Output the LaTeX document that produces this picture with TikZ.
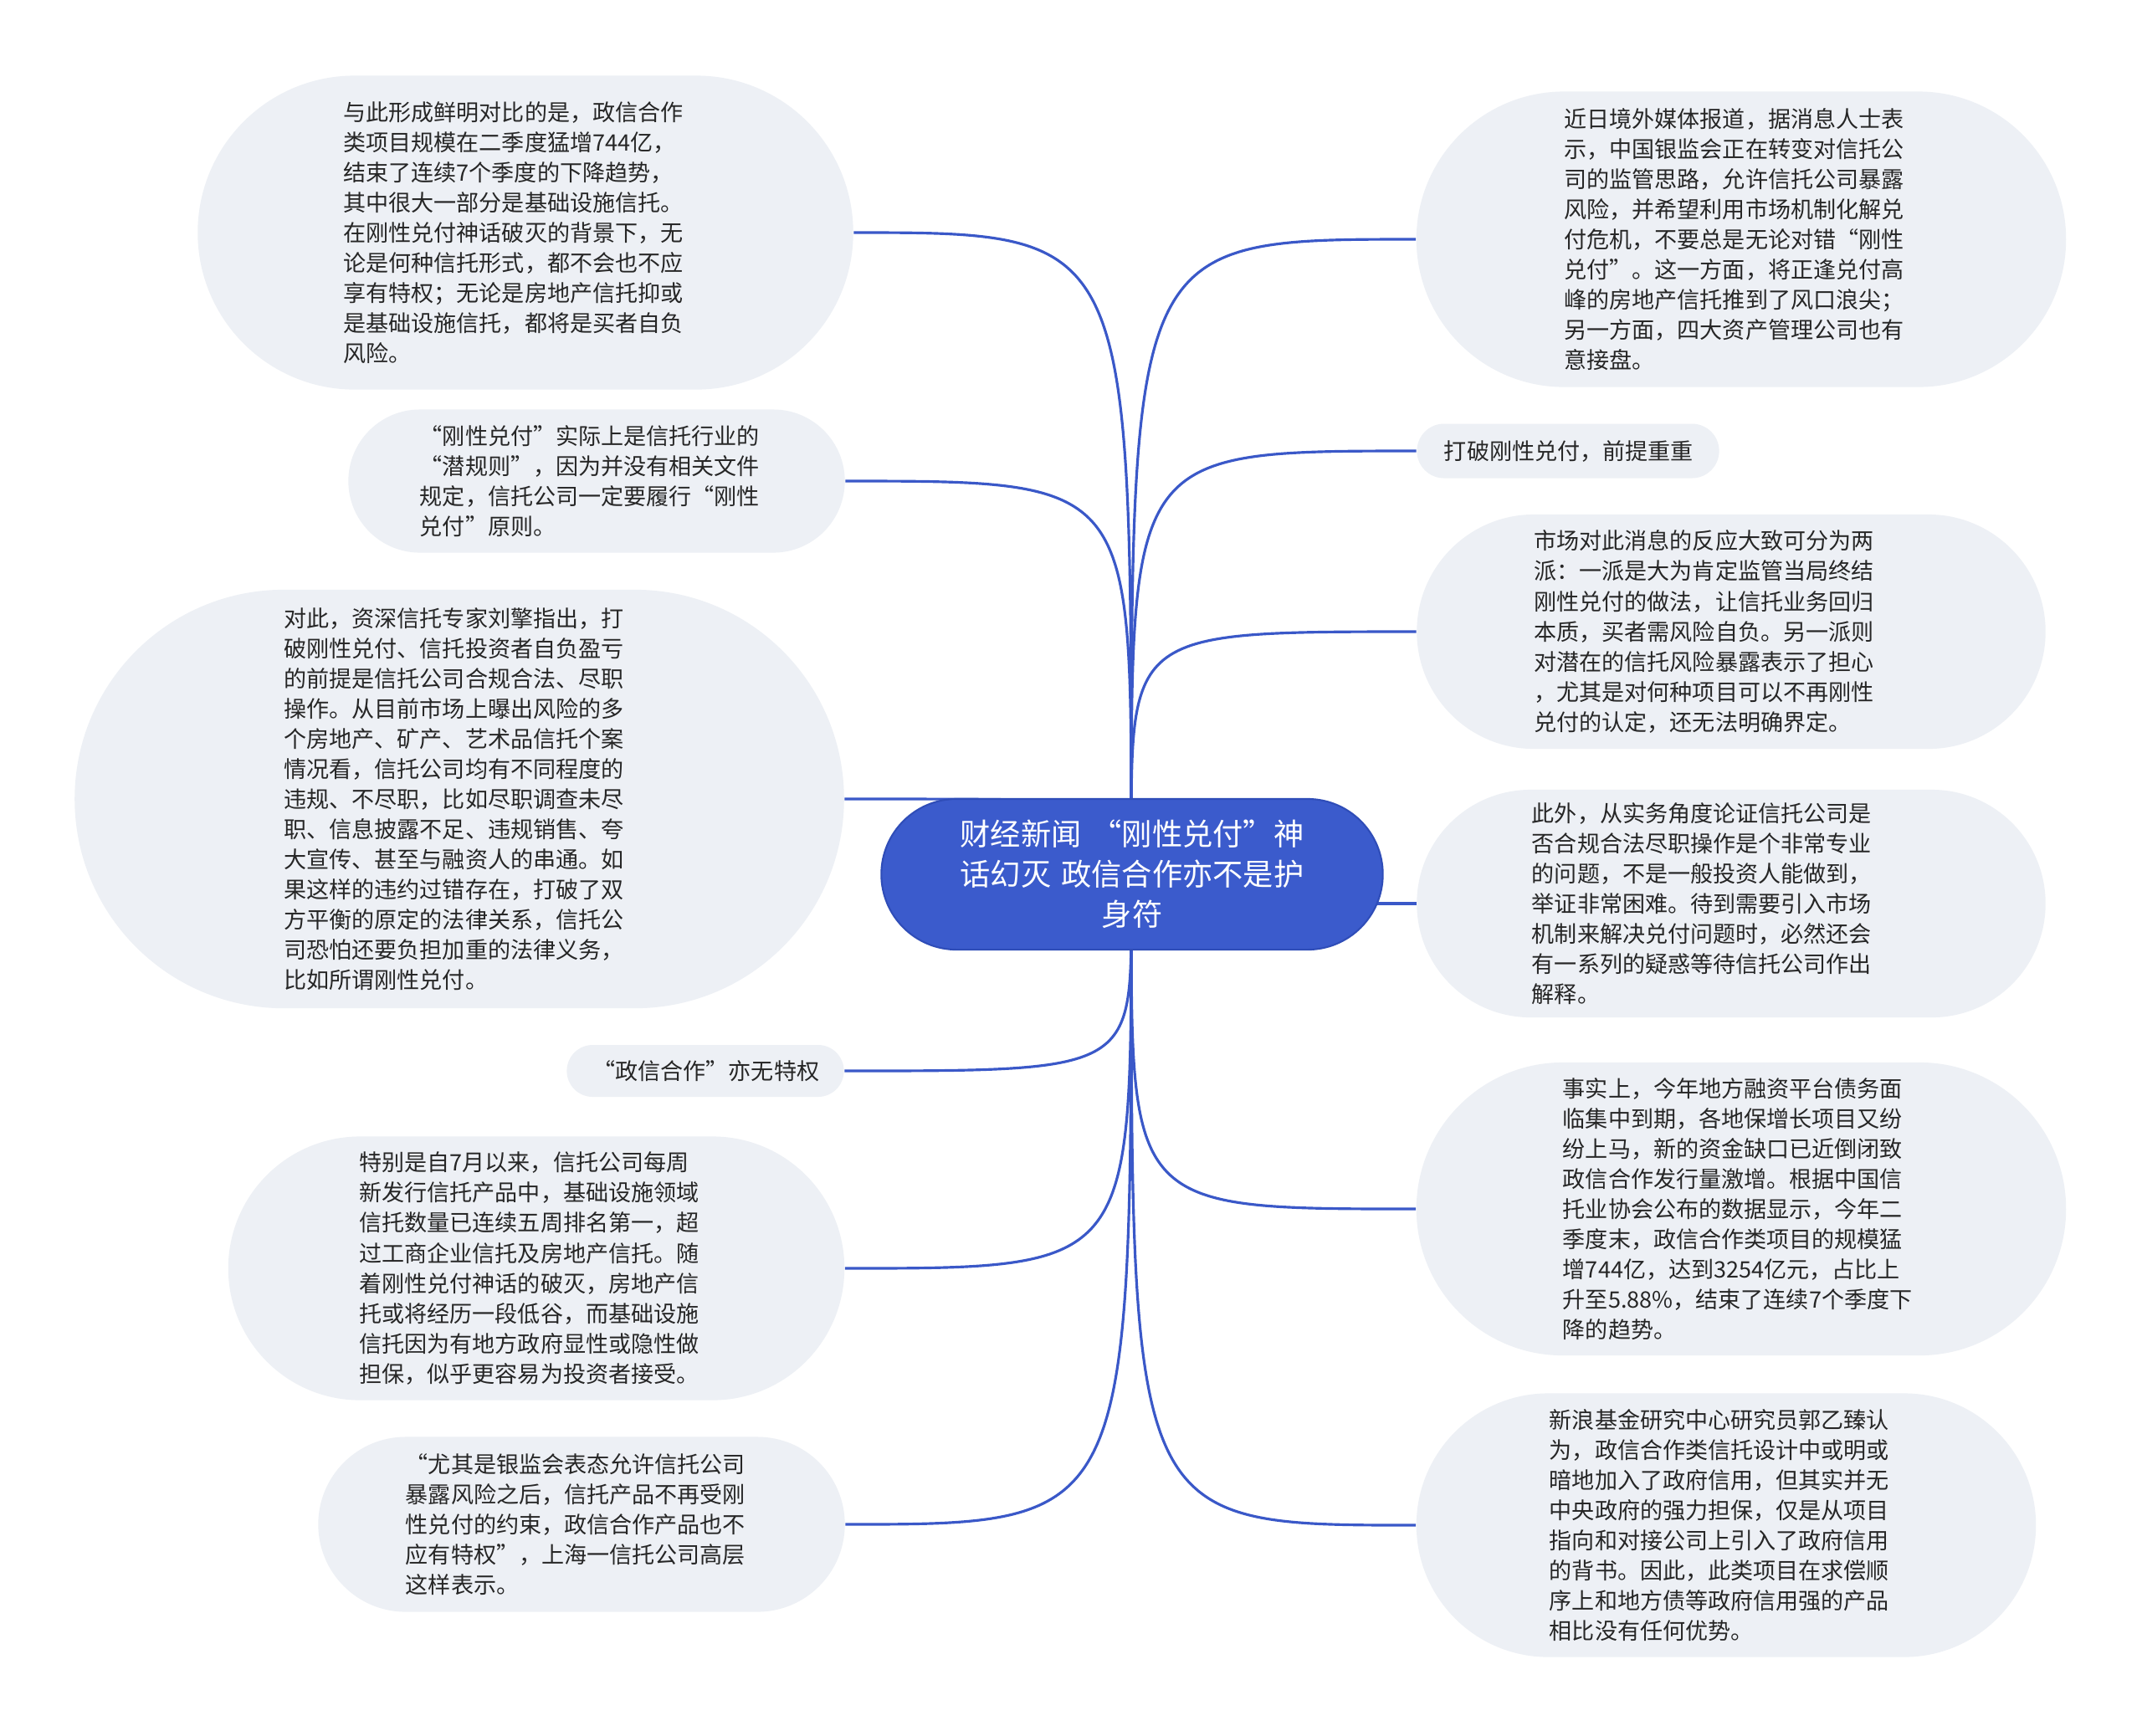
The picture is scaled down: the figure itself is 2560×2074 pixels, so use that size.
\documentclass[tikz,border=0pt]{standalone}
\usepackage{fontspec}
\setmainfont{Noto Sans CJK SC}
\usetikzlibrary{backgrounds}
\definecolor{nodefill}{HTML}{EDF0F5}
\definecolor{mainblue}{HTML}{3B5BCC}
\definecolor{mainedge}{HTML}{2F4DB8}
\definecolor{linkblue}{HTML}{3A58C8}
\definecolor{txt}{HTML}{262626}
\begin{document}
\begin{tikzpicture}[x=0.01cm,y=-0.01cm,
  leaf/.style n args={4}{rectangle, fill=nodefill, inner xsep=0pt, inner ysep=0pt,
    minimum width=#1, minimum height=#2, rounded corners=#3, text width=#4,
    align=left, text=txt, font=\fontsize{7.7pt}{10.25pt}\selectfont},
  root/.style n args={4}{rectangle, fill=mainblue, draw=mainedge, line width=0.6pt,
    inner xsep=0pt, inner ysep=0pt,
    minimum width=#1, minimum height=#2, rounded corners=#3, text width=#4,
    align=center, text=white, font=\fontsize{10.3pt}{13.7pt}\selectfont},
  link/.style={draw=linkblue, line width=0.9pt}]
\useasboundingbox (0,0) rectangle (2560,2074);

\node[root={5.99cm}{1.80cm}{0.90cm}{4.19cm}] (c) at (1353,1045)
  {财经新闻 “刚性兑付”神\\话幻灭 政信合作亦不是护\\身符};

% left side
\node[leaf={7.83cm}{3.75cm}{1.875cm}{4.35cm}] (L1) at (628,278)
  {与此形成鲜明对比的是，政信合作\\类项目规模在二季度猛增744亿，\\结束了连续7个季度的下降趋势，\\其中很大一部分是基础设施信托。\\在刚性兑付神话破灭的背景下，无\\论是何种信托形式，都不会也不应\\享有特权；无论是房地产信托抑或\\是基础设施信托，都将是买者自负\\风险。};
\node[leaf={5.93cm}{1.71cm}{0.855cm}{4.22cm}] (L2) at (713,575)
  {“刚性兑付”实际上是信托行业的\\“潜规则”，因为并没有相关文件\\规定，信托公司一定要履行“刚性\\兑付”原则。};
\node[leaf={9.19cm}{5.00cm}{2.5cm}{4.19cm}] (L3) at (549,955)
  {对此，资深信托专家刘擎指出，打\\破刚性兑付、信托投资者自负盈亏\\的前提是信托公司合规合法、尽职\\操作。从目前市场上曝出风险的多\\个房地产、矿产、艺术品信托个案\\情况看，信托公司均有不同程度的\\违规、不尽职，比如尽职调查未尽\\职、信息披露不足、违规销售、夸\\大宣传、甚至与融资人的串通。如\\果这样的违约过错存在，打破了双\\方平衡的原定的法律关系，信托公\\司恐怕还要负担加重的法律义务，\\比如所谓刚性兑付。};
\node[leaf={3.31cm}{0.62cm}{0.31cm}{2.69cm}] (L4) at (843,1280)
  {“政信合作”亦无特权};
\node[leaf={7.36cm}{3.15cm}{1.575cm}{4.23cm}] (L5) at (641,1516)
  {特别是自7月以来，信托公司每周\\新发行信托产品中，基础设施领域\\信托数量已连续五周排名第一，超\\过工商企业信托及房地产信托。随\\着刚性兑付神话的破灭，房地产信\\托或将经历一段低谷，而基础设施\\信托因为有地方政府显性或隐性做\\担保，似乎更容易为投资者接受。};
\node[leaf={6.29cm}{2.09cm}{1.045cm}{4.20cm}] (L6) at (695,1822)
  {“尤其是银监会表态允许信托公司\\暴露风险之后，信托产品不再受刚\\性兑付的约束，政信合作产品也不\\应有特权”，上海一信托公司高层\\这样表示。};

% right side
\node[leaf={7.76cm}{3.53cm}{1.765cm}{4.23cm}] (R1) at (2081,286)
  {近日境外媒体报道，据消息人士表\\示，中国银监会正在转变对信托公\\司的监管思路，允许信托公司暴露\\风险，并希望利用市场机制化解兑\\付危机，不要总是无论对错“刚性\\兑付”。这一方面，将正逢兑付高\\峰的房地产信托推到了风口浪尖；\\另一方面，四大资产管理公司也有\\意接盘。};
\node[leaf={3.61cm}{0.65cm}{0.325cm}{2.96cm}] (R2) at (1874,539)
  {打破刚性兑付，前提重重};
\node[leaf={7.51cm}{2.80cm}{1.40cm}{4.71cm}] (R3) at (2069,755)
  {市场对此消息的反应大致可分为两\\派：一派是大为肯定监管当局终结\\刚性兑付的做法，让信托业务回归\\本质，买者需风险自负。另一派则\\对潜在的信托风险暴露表示了担心\\，尤其是对何种项目可以不再刚性\\兑付的认定，还无法明确界定。};
\node[leaf={7.51cm}{2.72cm}{1.36cm}{4.76cm}] (R4) at (2069,1080)
  {此外，从实务角度论证信托公司是\\否合规合法尽职操作是个非常专业\\的问题，不是一般投资人能做到，\\举证非常困难。待到需要引入市场\\机制来解决兑付问题时，必然还会\\有一系列的疑惑等待信托公司作出\\解释。};
\node[leaf={7.76cm}{3.50cm}{1.75cm}{4.26cm}] (R5) at (2081,1445)
  {事实上，今年地方融资平台债务面\\临集中到期，各地保增长项目又纷\\纷上马，新的资金缺口已近倒闭致\\政信合作发行量激增。根据中国信\\托业协会公布的数据显示，今年二\\季度末，政信合作类项目的规模猛\\增744亿，达到3254亿元，占比上\\升至5.88\%，结束了连续7个季度下\\降的趋势。};
\node[leaf={7.40cm}{3.15cm}{1.575cm}{4.22cm}] (R6) at (2063,1823)
  {新浪基金研究中心研究员郭乙臻认\\为，政信合作类信托设计中或明或\\暗地加入了政府信用，但其实并无\\中央政府的强力担保，仅是从项目\\指向和对接公司上引入了政府信用\\的背书。因此，此类项目在求偿顺\\序上和地方债等政府信用强的产品\\相比没有任何优势。};

\coordinate (ct) at (1352,1000);
\coordinate (cb) at (1352,1090);

\begin{pgfonlayer}{background}
\fill[white] (0,0) rectangle (2560,2074);
\draw[link] (ct) .. controls (ct |- L1.east) .. (L1.east);
\draw[link] (ct) .. controls (ct |- L2.east) .. (L2.east);
\draw[link] (ct) .. controls (ct |- L3.east) .. (L3.east);
\draw[link] (cb) .. controls (cb |- L4.east) .. (L4.east);
\draw[link] (cb) .. controls (cb |- L5.east) .. (L5.east);
\draw[link] (cb) .. controls (cb |- L6.east) .. (L6.east);
\draw[link] (ct) .. controls (ct |- R1.west) .. (R1.west);
\draw[link] (ct) .. controls (ct |- R2.west) .. (R2.west);
\draw[link] (ct) .. controls (ct |- R3.west) .. (R3.west);
\draw[link] (c.center |- R4.west) -- (R4.west);
\draw[link] (cb) .. controls (cb |- R5.west) .. (R5.west);
\draw[link] (cb) .. controls (cb |- R6.west) .. (R6.west);
\end{pgfonlayer}
\end{tikzpicture}
\end{document}
